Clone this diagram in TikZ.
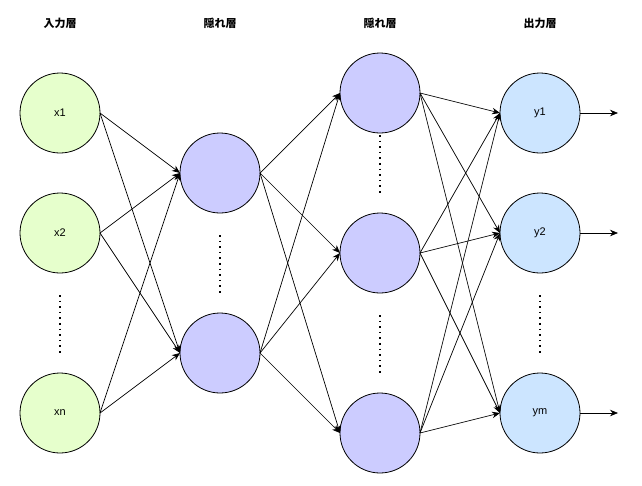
\documentclass[tikz,border=0pt]{standalone}
\usepackage{fontspec}
\setmainfont{Liberation Sans}
\newfontfamily\jpfont{Noto Sans CJK JP}
\usetikzlibrary{positioning, arrows.meta}

\definecolor{inputfill}{HTML}{E6FFCC}
\definecolor{hiddenfill}{HTML}{CCCCFF}
\definecolor{outputfill}{HTML}{CCE5FF}

\begin{document}
\begin{tikzpicture}[
    x=1pt, y=-1pt,
    unit/.style={
        draw,
        circle,
        line width=0.8pt,
        minimum size=80pt,
        inner sep=0pt,
        outer sep=0pt,
        font=\fontsize{11}{13}\selectfont
    },
    inunit/.style={unit, fill=inputfill},
    hidunit/.style={unit, fill=hiddenfill},
    outunit/.style={unit, fill=outputfill},
    layername/.style={font=\jpfont\bfseries\fontsize{11}{13}\selectfont},
    arrow/.style={-{Stealth[length=8pt, width=6.5pt]}, line width=0.7pt},
    vdots/.style={line width=1.6pt, dash pattern=on 1.6pt off 4pt}
]
\useasboundingbox (0,0) rectangle (642,485);

% Layer titles
\node[layername] (tin) at (60,23) {入力層};
\node[layername] (thid1) at (220,23) {隠れ層};
\node[layername] (thid2) at (380,23) {隠れ層};
\node[layername] (tout) at (540,23) {出力層};

% Input layer
\node[inunit] (x1) at (60,113) {x1};
\node[inunit, below=40pt of x1] (x2) {x2};
\node[inunit, below=100pt of x2] (xn) {xn};

% First hidden layer
\node[hidunit] (h1) at (220,173) {};
\node[hidunit, below=100pt of h1] (h2) {};

% Second hidden layer
\node[hidunit] (g1) at (380,93) {};
\node[hidunit, below=80pt of g1] (g2) {};
\node[hidunit, below=100pt of g2] (g3) {};

% Output layer
\node[outunit] (y1) at (540,113) {y1};
\node[outunit, below=40pt of y1] (y2) {y2};
\node[outunit, below=100pt of y2] (ym) {ym};

% Output ends
\coordinate[right=38pt of y1] (o1);
\coordinate[right=38pt of y2] (o2);
\coordinate[right=38pt of ym] (om);

% Dots for the skipped units
\draw[vdots] ([yshift=-22pt]x2.south) -- ([yshift=-80pt]x2.south);
\draw[vdots] ([yshift=-22pt]h1.south) -- ([yshift=-80pt]h1.south);
\draw[vdots] ([yshift=-2pt]g1.south) -- ([yshift=-60pt]g1.south);
\draw[vdots] ([yshift=-22pt]g2.south) -- ([yshift=-80pt]g2.south);
\draw[vdots] ([yshift=-22pt]y2.south) -- ([yshift=-80pt]y2.south);

% Input -> first hidden
\draw[arrow] (x1.east) -- (h1.west);
\draw[arrow] (x1.east) -- (h2.west);
\draw[arrow] (x2.east) -- (h1.west);
\draw[arrow] (x2.east) -- (h2.west);
\draw[arrow] (xn.east) -- (h1.west);
\draw[arrow] (xn.east) -- (h2.west);

% First hidden -> second hidden
\draw[arrow] (h1.east) -- (g1.west);
\draw[arrow] (h1.east) -- (g2.west);
\draw[arrow] (h1.east) -- (g3.west);
\draw[arrow] (h2.east) -- (g1.west);
\draw[arrow] (h2.east) -- (g2.west);
\draw[arrow] (h2.east) -- (g3.west);

% Second hidden -> output
\draw[arrow] (g1.east) -- (y1.west);
\draw[arrow] (g1.east) -- (y2.west);
\draw[arrow] (g1.east) -- (ym.west);
\draw[arrow] (g2.east) -- (y1.west);
\draw[arrow] (g2.east) -- (y2.west);
\draw[arrow] (g2.east) -- (ym.west);
\draw[arrow] (g3.east) -- (y1.west);
\draw[arrow] (g3.east) -- (y2.west);
\draw[arrow] (g3.east) -- (ym.west);

% Outputs
\draw[arrow] (y1.east) -- (o1);
\draw[arrow] (y2.east) -- (o2);
\draw[arrow] (ym.east) -- (om);

\end{tikzpicture}
\end{document}
